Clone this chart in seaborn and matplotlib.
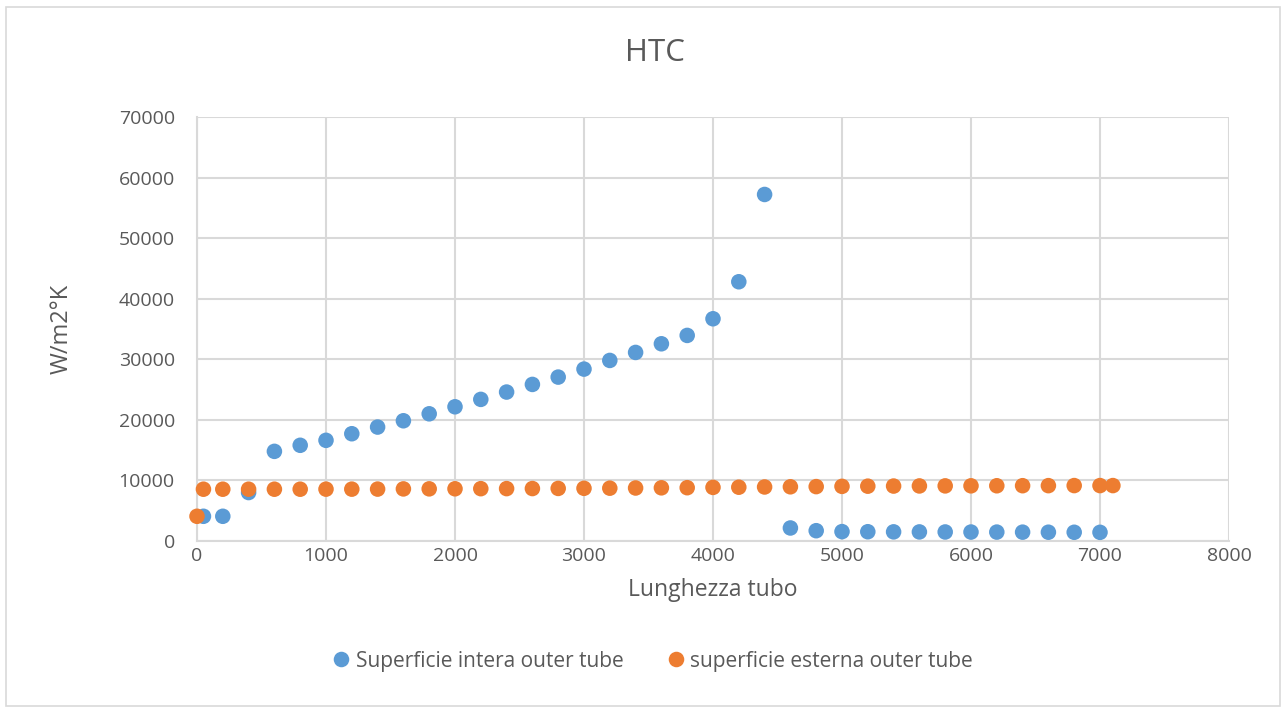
import numpy as np
import pandas as pd
import matplotlib.pyplot as plt
import seaborn as sns
from matplotlib.patches import Rectangle

# dati
x_interna = [50, 200, 400, 600, 800, 1000, 1200, 1400, 1600, 1800, 2000, 2200, 2400,
             2600, 2800, 3000, 3200, 3400, 3600, 3800, 4000, 4200, 4400, 4600, 4800,
             5000, 5200, 5400, 5600, 5800, 6000, 6200, 6400, 6600, 6800, 7000]
htc_interna = [4080, 4080, 8000, 14800, 15800, 16620, 17710, 18810, 19850, 21000, 22160,
               23380, 24590, 25850, 27060, 28380, 29810, 31130, 32560, 33940, 36690,
               42800, 57210, 2150, 1700, 1550, 1530, 1510, 1500, 1490, 1480, 1470,
               1460, 1450, 1440, 1430]

x_esterna = [0, 50, 200, 400, 600, 800, 1000, 1200, 1400, 1600, 1800, 2000, 2200, 2400,
             2600, 2800, 3000, 3200, 3400, 3600, 3800, 4000, 4200, 4400, 4600, 4800,
             5000, 5200, 5400, 5600, 5800, 6000, 6200, 6400, 6600, 6800, 7000, 7100]
htc_esterna = [4080, 8550, 8550, 8550, 8550, 8550, 8560, 8560, 8570, 8600, 8610, 8620,
               8640, 8650, 8660, 8680, 8700, 8720, 8750, 8780, 8800, 8850, 8880, 8920,
               8950, 8980, 9020, 9050, 9070, 9090, 9100, 9110, 9120, 9130, 9140, 9150,
               9150, 9150]

nomi = ['Superficie intera outer tube', 'superficie esterna outer tube']
colori = ['#5B9BD5', '#ED7D31']

df = pd.concat([
    pd.DataFrame({'x': x_interna, 'htc': htc_interna, 'serie': nomi[0]}),
    pd.DataFrame({'x': x_esterna, 'htc': htc_esterna, 'serie': nomi[1]}),
], ignore_index=True)

sns.set_theme(style='white')
plt.rcParams['font.family'] = ['Open Sans', 'DejaVu Sans']
testo = '#595959'
griglia = '#d9d9d9'

fig = plt.figure(figsize=(12.82, 7.09), dpi=100)
ax = fig.add_axes([197 / 1282, 1 - 541 / 709, (1229 - 197) / 1282, (541 - 117) / 709])

sns.scatterplot(data=df, x='x', y='htc', hue='serie', palette=colori, s=125,
                linewidth=0, ax=ax, zorder=3, clip_on=False)

ax.set_xlim(0, 8000)
ax.set_ylim(0, 70000)
ax.set_xticks(np.arange(0, 8001, 1000))
ax.set_yticks(np.arange(0, 70001, 10000))
ax.grid(True, color=griglia, linewidth=1.5)
ax.set_axisbelow(True)
for lato in ['top', 'right']:
    ax.spines[lato].set_visible(False)
for lato in ['left', 'bottom']:
    ax.spines[lato].set_color(griglia)
    ax.spines[lato].set_linewidth(1.5)
ax.tick_params(length=0, labelsize=14, colors=testo)
ax.tick_params(axis='y', pad=16)
ax.tick_params(axis='x', pad=4)

ax.set_xlabel('Lunghezza tubo', fontsize=16.5, color=testo, labelpad=10)
ax.set_ylabel('W/m2°K', fontsize=17, color=testo, labelpad=32)
fig.text(655 / 1282, 1 - 53 / 709, 'HTC', fontsize=22.5, color=testo, ha='center', va='center')

sns.move_legend(ax, 'center', bbox_to_anchor=(653 / 1282, 1 - 661 / 709),
                bbox_transform=fig.transFigure, ncol=2, frameon=False,
                title=None, fontsize=15, markerscale=1.0, handlelength=0.8,
                handletextpad=0.3, columnspacing=2.1, labelcolor=testo)

fig.patches.append(Rectangle((6 / 1282, 3 / 709), 1274 / 1282, 699 / 709,
                             transform=fig.transFigure, fill=False,
                             edgecolor=griglia, linewidth=1.2))

fig.savefig('out.png', dpi=100, facecolor='white')
